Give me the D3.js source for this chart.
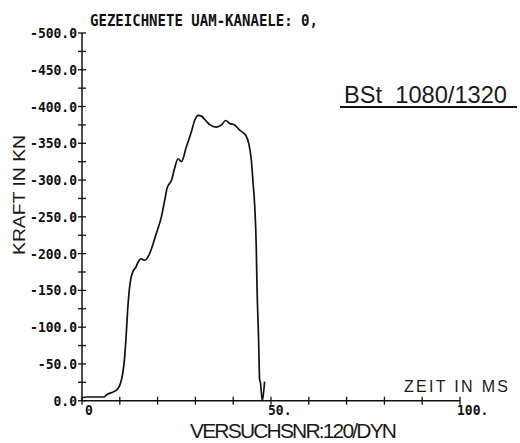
<!DOCTYPE html>
<html>
<head>
<meta charset="utf-8">
<script src="https://cdn.jsdelivr.net/npm/d3@7"></script>
<style>
  body { margin: 0; background: #fff; }
  svg { display: block; }
  .plot { font-family: "DejaVu Sans Mono", monospace; font-weight: bold; fill: #111; }
  .din { font-family: "Liberation Sans", "Noto Sans", sans-serif; fill: #1a1a1a; white-space: pre; }
</style>
</head>
<body>
<div id="chart"></div>
<script>
// force trace (time in ms, force in kN, compression negative)
const timeMs = [0, 1.2, 5.8, 6.5, 8.3, 9.6, 10.2, 10.8, 11.3, 11.7, 12.1, 12.5, 13.0, 13.5, 14.3, 14.9,
  15.6, 16.6, 17.5, 18.4, 19.7, 21.0, 21.9, 22.5, 23.7, 24.5, 25.4, 26.3, 27.6, 28.9, 29.8, 30.7,
  31.6, 32.9, 33.9, 35.5, 36.9, 38.0, 39.1, 40.4, 41.7, 43.3, 44.1, 44.8, 45.2, 45.7, 46.1, 46.3,
  46.7, 47.0, 47.2, 47.7, 48.3];
const forceKN = [-4, -5, -5, -8, -12, -17, -24, -38, -60, -90, -125, -150, -168, -176, -182, -189,
  -193, -191, -196, -207, -228, -250, -273, -289, -300, -316, -329, -325, -345, -365, -381, -388,
  -387, -380, -375, -372, -375, -381, -377, -375, -368, -361, -350, -327, -300, -264, -209, -155,
  -87, -28, -25, 0, -26];

const yTicks = [0, -50, -100, -150, -200, -250, -300, -350, -400, -450, -500];
const yMinorTicks = [-25, -75, -125, -175, -225, -275, -325, -375, -425, -475];
const xTicks = [0, 10, 20, 30, 40, 50, 60, 70, 80, 90, 100];
const xTickLabels = [[0, "0"], [50, "50."], [100, "100."]];

const headerText = "GEZEICHNETE UAM-KANAELE: 0,";
const materialText = "BSt  1080/1320";
const yTitle = "KRAFT IN KN";
const xTitle = "ZEIT IN MS";
const testText = "VERSUCHSNR:120/DYN";

const width = 520, height = 443;
const x = d3.scaleLinear().domain([0, 100]).range([82, 460]);
const y = d3.scaleLinear().domain([0, -500]).range([400.7, 33]);

const svg = d3.select('#chart').append('svg')
  .attr('width', width)
  .attr('height', height);

// axes lines
svg.append('line')
  .attr('x1', x(0)).attr('x2', x(100))
  .attr('y1', y(0)).attr('y2', y(0))
  .attr('stroke', '#111').attr('stroke-width', 1.5);
svg.append('line')
  .attr('x1', x(0)).attr('x2', x(0))
  .attr('y1', y(0)).attr('y2', y(-500))
  .attr('stroke', '#111').attr('stroke-width', 1.5);

// y ticks (cross the axis)
svg.selectAll('.ytick')
  .data(yTicks.concat(yMinorTicks))
  .enter().append('line')
  .attr('x1', x(0) - 4).attr('x2', x(0) + 4)
  .attr('y1', d => y(d)).attr('y2', d => y(d))
  .attr('stroke', '#111').attr('stroke-width', 1.3);

svg.selectAll('.ylab')
  .data(yTicks)
  .enter().append('text')
  .attr('class', 'plot')
  .attr('transform', d => `translate(${x(0) - 5},${y(d) + 5}) scale(1,1.12)`)
  .attr('text-anchor', 'end')
  .attr('font-size', 13)
  .text(d => d.toFixed(1));

// x ticks
svg.selectAll('.xtick')
  .data(xTicks)
  .enter().append('line')
  .attr('x1', d => x(d)).attr('x2', d => x(d))
  .attr('y1', y(0) - 4).attr('y2', y(0) + 4)
  .attr('stroke', '#111').attr('stroke-width', 1.3);

svg.selectAll('.xlab')
  .data(xTickLabels)
  .enter().append('text')
  .attr('class', 'plot')
  .attr('transform', d => `translate(${d[0] === 0 ? x(0) + 3 : x(d[0]) - 3},${y(0) + 14}) scale(1,1.12)`)
  .attr('font-size', 13)
  .text(d => d[1]);

// the trace
const line = d3.line()
  .x((d, i) => x(timeMs[i]))
  .y(d => y(d))
  .curve(d3.curveMonotoneX);

svg.append('path')
  .datum(forceKN)
  .attr('fill', 'none')
  .attr('stroke', '#111')
  .attr('stroke-width', 1.7)
  .attr('stroke-linejoin', 'round')
  .attr('d', line);

// texts
svg.append('text')
  .attr('class', 'plot')
  .attr('transform', 'translate(90,26) scale(1,1.22)')
  .attr('font-size', 13)
  .attr('textLength', 228)
  .attr('lengthAdjust', 'spacingAndGlyphs')
  .text(headerText);

svg.append('text')
  .attr('class', 'din')
  .attr('x', 344).attr('y', 103)
  .attr('font-size', 24)
  .attr('textLength', 163)
  .attr('lengthAdjust', 'spacingAndGlyphs')
  .text(materialText);
svg.append('line')
  .attr('x1', 340).attr('x2', 517)
  .attr('y1', 107).attr('y2', 107)
  .attr('stroke', '#111').attr('stroke-width', 2);

svg.append('text')
  .attr('class', 'din')
  .attr('transform', 'translate(25,255) rotate(-90)')
  .attr('font-size', 17)
  .attr('textLength', 120)
  .attr('lengthAdjust', 'spacingAndGlyphs')
  .text(yTitle);

svg.append('text')
  .attr('class', 'din')
  .attr('x', 404).attr('y', 392)
  .attr('font-size', 16)
  .attr('textLength', 104)
  .attr('lengthAdjust', 'spacing')
  .text(xTitle);

svg.append('text')
  .attr('class', 'din')
  .attr('x', 190).attr('y', 438)
  .attr('font-size', 21)
  .attr('textLength', 207)
  .attr('lengthAdjust', 'spacing')
  .text(testText);
</script>
</body>
</html>
